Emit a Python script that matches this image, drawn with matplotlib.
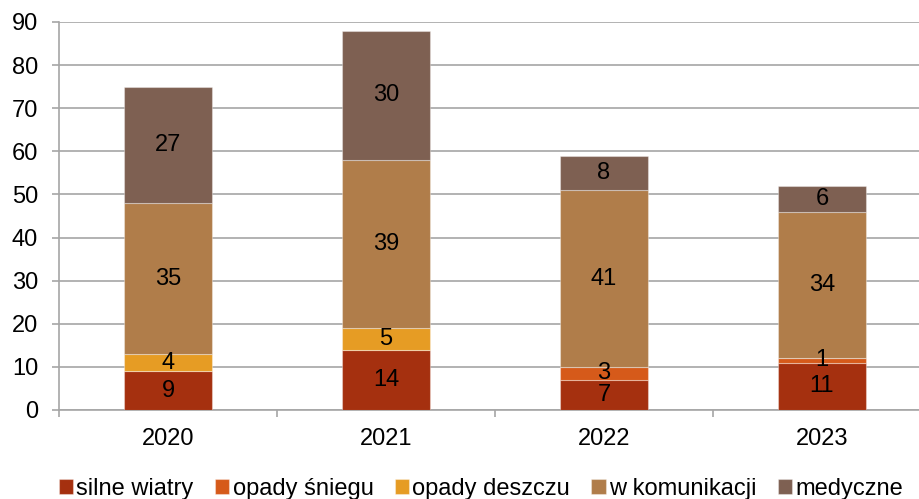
import matplotlib
matplotlib.use("Agg")
import matplotlib.pyplot as plt
import numpy as np

years = ["2020", "2021", "2022", "2023"]
series_names = ["silne wiatry", "opady śniegu", "opady deszczu", "w komunikacji", "medyczne"]
silne_wiatry = [9, 14, 7, 11]
opady_sniegu = [0, 0, 3, 1]
opady_deszczu = [4, 5, 0, 0]
w_komunikacji = [35, 39, 41, 34]
medyczne = [27, 30, 8, 6]
colors = ["#A5300F", "#D65A1A", "#E69C24", "#B07D4A", "#7E6052"]

plt.rcParams['font.family'] = ['Liberation Sans', 'DejaVu Sans']
FS = 17

fig = plt.figure(figsize=(9.2, 4.99), dpi=100)
ax = fig.add_axes([59/920, 89/499, 872/920, 388/499])

x = np.arange(len(years))
bottom = np.zeros(len(years))
grid_c = "#A6A6A6"
for name, vals, c in zip(series_names,
                         [silne_wiatry, opady_sniegu, opady_deszczu, w_komunikacji, medyczne],
                         colors):
    vals = np.array(vals, dtype=float)
    ax.bar(x, vals, 0.4, bottom=bottom, color=c, label=name,
           edgecolor=(1, 1, 1, 0.35), linewidth=0.8, zorder=3)
    for xi, v, b in zip(x, vals, bottom):
        if v > 0:
            ax.text(xi, b + v / 2, f"{int(v)}", ha="center", va="center",
                    fontsize=FS, color="black", zorder=4)
    bottom += vals

ax.set_xlim(-0.5, 3.5)
ax.set_ylim(0, 90)
ax.set_yticks(range(0, 91, 10))
ax.yaxis.grid(True, color=grid_c, linewidth=1.2, zorder=0)
ax.set_axisbelow(True)
ax.set_xticks(x)
ax.set_xticklabels(years)
ax.set_xticks([-0.5, 0.5, 1.5, 2.5], minor=True)
ax.tick_params(axis='x', which='major', length=0, labelsize=FS, pad=13)
ax.tick_params(axis='x', which='minor', length=5, width=1.2, color=grid_c)
ax.tick_params(axis='y', length=5, width=1.2, color=grid_c, labelsize=FS, pad=10)
for s in ["top", "right"]:
    ax.spines[s].set_visible(False)
ax.spines["left"].set_color(grid_c)
ax.spines["left"].set_linewidth(1.2)
ax.spines["bottom"].set_color(grid_c)
ax.spines["bottom"].set_linewidth(1.2)

fig.legend(loc="center", bbox_to_anchor=(481/920, 1 - 489/499), ncol=5,
           frameon=False, fontsize=FS, handlelength=0.6, handleheight=0.6,
           handletextpad=0.15, columnspacing=0.9, borderaxespad=0)

fig.savefig("out.png", dpi=100)
